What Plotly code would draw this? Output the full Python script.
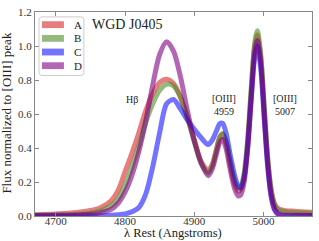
import plotly.graph_objects as go

# Rest wavelength grid (Angstroms)
wave = [4670, 4700, 4730, 4750, 4765, 4780, 4790, 4800, 4810, 4820, 4830, 4840, 4850,
        4860, 4870, 4880, 4890, 4900, 4910, 4920, 4926, 4932, 4937, 4941, 4946, 4952,
        4958, 4963, 4967, 4972, 4977, 4982, 4987, 4991, 4996, 5001, 5006, 5011, 5016,
        5021, 5030, 5045, 5070]

flux_A = [0.008, 0.012, 0.02, 0.032, 0.05, 0.09, 0.15, 0.26, 0.37, 0.49, 0.62, 0.72, 0.785,
          0.805, 0.78, 0.70, 0.58, 0.45, 0.32, 0.267, 0.304, 0.393, 0.464, 0.48, 0.43, 0.304,
          0.195, 0.149, 0.153, 0.232, 0.423, 0.715, 0.985, 1.065, 0.931, 0.63, 0.338, 0.154, 0.071,
          0.044, 0.033, 0.028, 0.022]

flux_B = [0.004, 0.006, 0.01, 0.017, 0.03, 0.06, 0.10, 0.18, 0.29, 0.41, 0.55, 0.66, 0.74,
          0.775, 0.765, 0.70, 0.58, 0.44, 0.31, 0.252, 0.294, 0.388, 0.464, 0.485, 0.435, 0.314,
          0.21, 0.169, 0.173, 0.253, 0.446, 0.739, 1.009, 1.09, 0.95, 0.641, 0.341, 0.152, 0.066,
          0.037, 0.026, 0.02, 0.015]

flux_C = [0.0, 0.0, 0.0, 0.001, 0.002, 0.004, 0.007, 0.012, 0.025, 0.05, 0.13, 0.29, 0.49,
          0.66, 0.685, 0.63, 0.565, 0.51, 0.46, 0.42, 0.447, 0.50, 0.544, 0.545, 0.488, 0.358,
          0.242, 0.179, 0.165, 0.226, 0.40, 0.672, 0.923, 1.0, 0.866, 0.574, 0.291, 0.115, 0.036,
          0.01, 0.003, 0.002, 0.002]

flux_D = [0.003, 0.004, 0.006, 0.01, 0.02, 0.04, 0.075, 0.14, 0.24, 0.38, 0.56, 0.77, 0.95,
          1.025, 0.97, 0.82, 0.62, 0.44, 0.31, 0.237, 0.278, 0.365, 0.434, 0.45, 0.396, 0.271,
          0.164, 0.119, 0.123, 0.20, 0.393, 0.683, 0.953, 1.033, 0.899, 0.597, 0.305, 0.121, 0.04,
          0.014, 0.005, 0.004, 0.003]

names = ["A", "B", "C", "D"]
series = [flux_A, flux_B, flux_C, flux_D]
colors = ["rgba(214,39,40,0.6)", "rgba(80,140,40,0.6)", "rgba(0,0,255,0.55)", "rgba(128,0,128,0.6)"]

x_ticks = [4700, 4800, 4900, 5000]
y_ticks = [0.0, 0.2, 0.4, 0.6, 0.8, 1.0, 1.2]

SERIF = "Liberation Serif"

fig = go.Figure()
for nm, ys, c in zip(names, series, colors):
    fig.add_trace(go.Scatter(x=wave, y=ys, mode="lines", name=nm,
                             line=dict(color=c, width=5, shape="spline", smoothing=0.8),
                             showlegend=False, hoverinfo="skip"))

# plot-area geometry in pixels (for the hand-made legend)
L, R, T, B = 35, 6.3, 7, 25
W = 319 - L - R
H = 241 - T - B

def px(xp):
    return (xp - L) / W

def py(yp):
    return (241 - B - yp) / H

shapes = []
# legend frame (rounded)
x0, x1, y0, y1 = px(39), px(84), py(72), py(12)
rx, ry = 3 / W, 3 / H
path = (f"M{x0+rx},{y0} L{x1-rx},{y0} Q{x1},{y0} {x1},{y0+ry} L{x1},{y1-ry} Q{x1},{y1} {x1-rx},{y1} "
        f"L{x0+rx},{y1} Q{x0},{y1} {x0},{y1-ry} L{x0},{y0+ry} Q{x0},{y0} {x0+rx},{y0} Z")
shapes.append(dict(type="path", xref="paper", yref="paper", path=path,
                   fillcolor="rgba(255,255,255,0.85)", line=dict(color="#cccccc", width=1)))
annotations = []
rows = [20, 34, 48, 62]
for nm, c, yc in zip(names, colors, rows):
    shapes.append(dict(type="rect", xref="paper", yref="paper",
                       x0=px(42), x1=px(64), y0=py(yc + 3.5), y1=py(yc - 3.5),
                       fillcolor=c, line=dict(width=0)))
    annotations.append(dict(xref="paper", yref="paper", x=px(72), y=py(yc), text=nm,
                            showarrow=False, xanchor="left", yanchor="middle",
                            font=dict(family=SERIF, size=11, color="#222")))

annotations += [
    dict(xref="paper", yref="paper", x=px(90), y=py(20), text="WGD J0405", showarrow=False,
         xanchor="left", yanchor="middle", font=dict(family=SERIF, size=14, color="#222")),
    dict(x=4810, y=0.683, text="Hβ", showarrow=False,
         font=dict(family=SERIF, size=10, color="#222")),
    dict(x=4943, y=0.655, text="[OIII]<br>4959", showarrow=False,
         font=dict(family=SERIF, size=10, color="#222")),
    dict(x=5031, y=0.655, text="[OIII]<br>5007", showarrow=False,
         font=dict(family=SERIF, size=10, color="#222")),
    dict(xref="paper", yref="paper", x=px(6), y=py(110), text="Flux normalized to [OIII] peak",
         textangle=-90, showarrow=False, xanchor="center", yanchor="middle",
         font=dict(family=SERIF, size=13, color="#222")),
    dict(xref="paper", yref="paper", x=px(173.5), y=py(233.5), text="λ Rest (Angstroms)",
         showarrow=False, xanchor="center", yanchor="middle",
         font=dict(family=SERIF, size=12.5, color="#222")),
]

axis_common = dict(showgrid=False, zeroline=False, showline=True, linecolor="#888888",
                   linewidth=1, mirror="ticks", ticks="inside", ticklen=4, tickcolor="#888888",
                   tickfont=dict(family=SERIF, size=11, color="#333333"))

fig.update_layout(
    width=319, height=241,
    margin=dict(l=L, r=R, t=T, b=B),
    paper_bgcolor="white", plot_bgcolor="white",
    xaxis=dict(range=[4670, 5070], tickvals=x_ticks, ticktext=[str(v) for v in x_ticks],
               ticklabelstandoff=-5, **axis_common),
    yaxis=dict(range=[0, 1.2], tickvals=y_ticks, ticktext=[f"{v:.1f}" for v in y_ticks], **axis_common),
    shapes=shapes, annotations=annotations, showlegend=False,
)

fig.write_html("out.html", config={"displayModeBar": False},
               post_script="document.body.style.margin='0';")
